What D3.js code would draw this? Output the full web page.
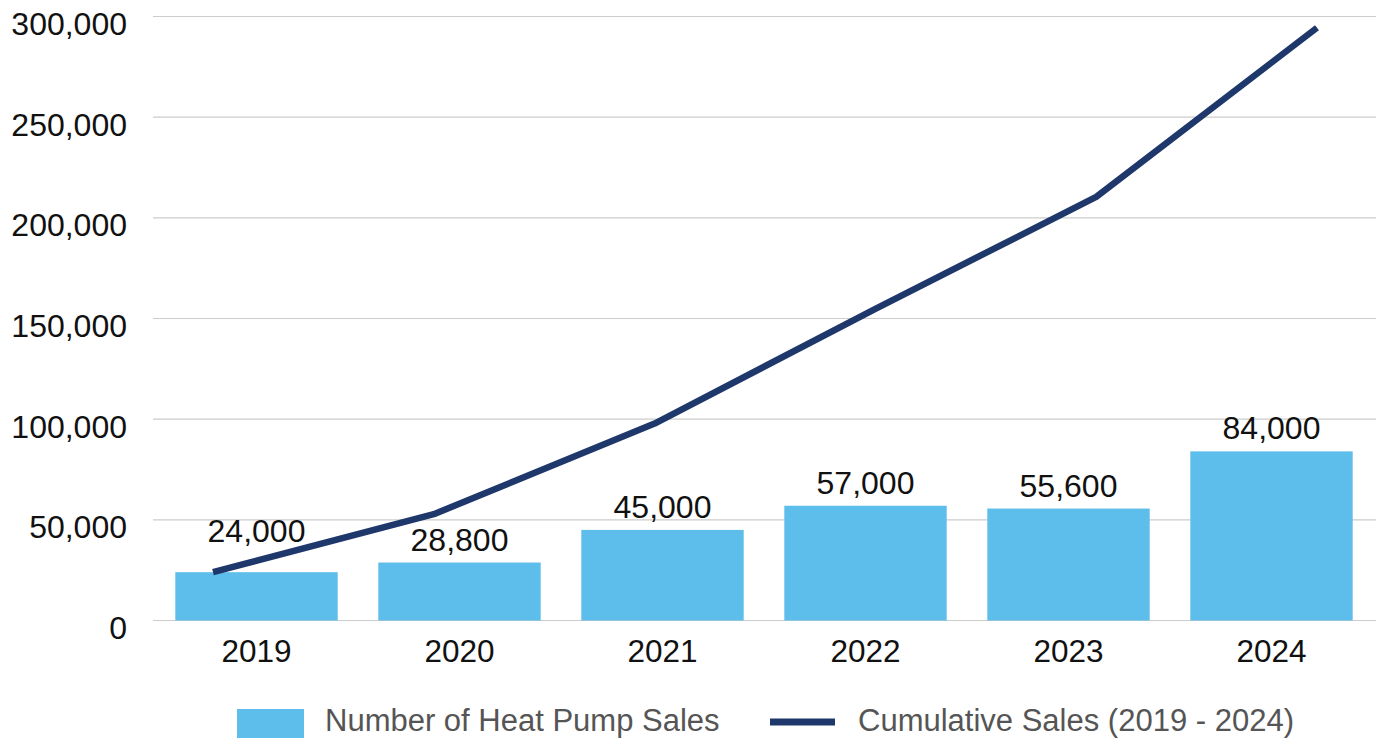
<html>

<head>
    <title>Heat Pump Sales</title>
    <script src="https://d3js.org/d3.v7.min.js"></script>
    <style>
        body { margin: 0; background: #fff; }
        text { font-family: "Liberation Sans", Arial, Helvetica, sans-serif; }
    </style>
</head>

<body>
    <div id="myPlot"></div>
    <script>
        // data
        var years = ["2019", "2020", "2021", "2022", "2023", "2024"];
        var sales = [24000, 28800, 45000, 57000, 55600, 84000];
        var cumulative = [24000, 52800, 97800, 154800, 210400, 294400];
        var yTicks = [0, 50000, 100000, 150000, 200000, 250000, 300000];
        var seriesNames = ["Number of Heat Pump Sales", "Cumulative Sales (2019 - 2024)"];

        var barColor = "#5ebeeb";
        var lineColor = "#1f386b";

        var svg = d3.select("#myPlot").append("svg")
            .attr("width", 1384)
            .attr("height", 738);

        // scales
        var xScale = d3.scaleBand()
            .domain(years)
            .range([155, 1373])
            .paddingInner(0.2)
            .paddingOuter(0.1);

        // the line series sits on its own x positions in the original
        var xLine = d3.scalePoint()
            .domain(years)
            .range([213, 1317]);

        var yScale = d3.scaleLinear()
            .domain([0, 300000])
            .range([620.5, 16.5]);

        var fmt = d3.format(",");

        // gridlines
        svg.append("g")
            .selectAll("line")
            .data(yTicks)
            .enter()
            .append("line")
            .attr("x1", 153)
            .attr("x2", 1376)
            .attr("y1", function (d) { return yScale(d); })
            .attr("y2", function (d) { return yScale(d); })
            .attr("stroke", "#cccccc")
            .attr("stroke-width", 1.2);

        // y tick labels
        svg.append("g")
            .selectAll("text")
            .data(yTicks)
            .enter()
            .append("text")
            .attr("x", 127)
            .attr("y", function (d) { return yScale(d) + 18.5; })
            .attr("text-anchor", "end")
            .style("font-size", "32px")
            .style("fill", "#111")
            .text(function (d) { return fmt(d); });

        // bars
        svg.append("g")
            .selectAll("rect")
            .data(sales)
            .enter()
            .append("rect")
            .attr("x", function (d, i) { return xScale(years[i]); })
            .attr("width", xScale.bandwidth())
            .attr("y", function (d) { return yScale(d); })
            .attr("height", function (d) { return yScale(0) - yScale(d); })
            .attr("fill", barColor);

        // x labels
        svg.append("g")
            .selectAll("text")
            .data(years)
            .enter()
            .append("text")
            .attr("x", function (d) { return xScale(d) + xScale.bandwidth() / 2; })
            .attr("y", yScale(0) + 41.5)
            .attr("text-anchor", "middle")
            .style("font-size", "31.5px")
            .style("fill", "#111")
            .text(function (d) { return d; });

        // cumulative line
        var line = d3.line()
            .x(function (d, i) { return xLine(years[i]); })
            .y(function (d) { return yScale(d); });

        svg.append("path")
            .datum(cumulative)
            .attr("d", line)
            .attr("fill", "none")
            .attr("stroke", lineColor)
            .attr("stroke-width", 6.5)
            .attr("stroke-linejoin", "round");

        // value labels above bars (first one lifted clear of the line)
        svg.append("g")
            .selectAll("text")
            .data(sales)
            .enter()
            .append("text")
            .attr("x", function (d, i) { return xScale(years[i]) + xScale.bandwidth() / 2; })
            .attr("y", function (d, i) { return yScale(d) - (i == 0 ? 30 : 12); })
            .attr("text-anchor", "middle")
            .style("font-size", "32px")
            .style("fill", "#111")
            .text(function (d) { return fmt(d); });

        // legend
        var legend = svg.append("g");
        legend.append("rect")
            .attr("x", 237)
            .attr("y", 709)
            .attr("width", 67)
            .attr("height", 29)
            .attr("fill", barColor);
        legend.append("text")
            .attr("x", 325)
            .attr("y", 730.5)
            .style("font-size", "31px")
            .style("fill", "#555")
            .text(seriesNames[0]);
        legend.append("line")
            .attr("x1", 770)
            .attr("x2", 835)
            .attr("y1", 722)
            .attr("y2", 722)
            .attr("stroke", lineColor)
            .attr("stroke-width", 7);
        legend.append("text")
            .attr("x", 858)
            .attr("y", 730.5)
            .style("font-size", "31px")
            .style("fill", "#555")
            .text(seriesNames[1]);
    </script>
</body>

</html>
